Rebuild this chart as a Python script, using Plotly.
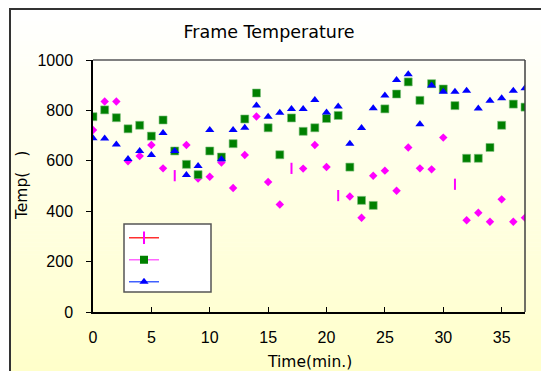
import plotly.graph_objects as go

# ---------------- data ----------------
time_min = list(range(38))

temp_diamond = [722, 835, 835, 598, 619, 663, 570, None, 663, 530, 537, 593, 492, 623,
                776, 516, 427, None, 569, 663, 575, None, 458, 374, 541, 561, 481, 653,
                570, 566, 692, None, 364, 394, 358, 447, 358, 374]

bar_times = [7, 17, 21, 31]
temp_bar = [541, 570, 462, 507]

temp_square = [775, 802, 771, 727, 741, 698, 762, 639, 586, 545, 639, 615, 668, 766,
               869, 731, 624, 770, 717, 731, 768, 780, 575, 443, 423, 806, 865, 913,
               840, 906, 885, 819, 610, 610, 653, 741, 825, 813]

temp_triangle = [689, 688, 665, 607, 639, 623, 710, 639, 544, 579, 722, 606, 722, 731,
                 819, 775, 791, 806, 806, 841, 792, 815, 668, 730, 809, 859, 921, 943,
                 745, 899, 874, 874, 878, 808, 838, 848, 878, 888]

x_ticks = [0, 5, 10, 15, 20, 25, 30, 35]
y_ticks = [0, 200, 400, 600, 800, 1000]

title_text = "Frame Temperature"
x_title = "Time(min.)"
y_title = "Temp(\u00a0\u00a0\u00a0)"

# ---------------- geometry (pixels) ----------------
W, H = 541, 371
L, R, T, B = 93, 525, 60, 312
pw, ph = R - L, B - T


def px_x(p):
    return (p - L) / pw


def px_y(p):
    return (B - p) / ph


FONT = "Arial, Liberation Sans, sans-serif"
WIDE = "DejaVu Sans, Arial, sans-serif"

fig = go.Figure()

# legend-only traces (legend shows odd line/marker combos as in the reference)
fig.add_trace(go.Scatter(x=[None], y=[None], mode="lines+markers", name="\u00a0",
                         line=dict(color="#FF3030", width=1.5),
                         marker=dict(symbol="line-ns", size=9, color="#FF00FF",
                                     line=dict(color="#FF00FF", width=2))))
fig.add_trace(go.Scatter(x=[None], y=[None], mode="lines+markers", name="\u00a0",
                         line=dict(color="#FF66FF", width=1.5),
                         marker=dict(symbol="square", size=8, color="#008000")))
fig.add_trace(go.Scatter(x=[None], y=[None], mode="lines+markers", name="\u00a0",
                         line=dict(color="#4060FF", width=1.5),
                         marker=dict(symbol="triangle-up", size=8, color="#0000FF")))

# data traces
fig.add_trace(go.Scatter(x=time_min, y=temp_diamond, mode="markers", showlegend=False,
                         marker=dict(symbol="diamond", size=6.5, color="#FF00FF")))
fig.add_trace(go.Scatter(x=bar_times, y=temp_bar, mode="markers", showlegend=False,
                         marker=dict(symbol="line-ns", size=8, color="#FF00FF",
                                     line=dict(color="#FF00FF", width=2))))
fig.add_trace(go.Scatter(x=time_min, y=temp_square, mode="markers", showlegend=False,
                         marker=dict(symbol="square", size=8, color="#008000",
                                     line=dict(color="#7FC07F", width=0.6))))
fig.add_trace(go.Scatter(x=time_min, y=temp_triangle, mode="markers", showlegend=False,
                         marker=dict(symbol="triangle-up", size=8, color="#0000FF")))

shapes = []
# gradient chart background
top_px, bot_px = 9, H
n = 90
for i in range(n):
    y0 = top_px + (bot_px - top_px) * i / n
    y1 = top_px + (bot_px - top_px) * (i + 1) / n + 0.5
    f = (i + 0.5) / n
    b = round(255 - (255 - 202) * f)
    shapes.append(dict(type="rect", xref="paper", yref="paper", layer="below",
                       x0=px_x(10), x1=px_x(W + 5), y0=px_y(y1), y1=px_y(y0),
                       line=dict(width=0), fillcolor=f"rgb(255,255,{b})"))
# chart border
shapes.append(dict(type="rect", xref="paper", yref="paper", layer="below",
                   x0=px_x(10), x1=px_x(W + 5), y0=px_y(H + 5), y1=px_y(9),
                   line=dict(color="#333333", width=2), fillcolor="rgba(0,0,0,0)"))
# plot area border (top gray, right dark)
shapes.append(dict(type="line", xref="paper", yref="paper", x0=0, x1=1, y0=1, y1=1,
                   line=dict(color="#808080", width=2)))
shapes.append(dict(type="line", xref="paper", yref="paper", x0=1, x1=1, y0=0, y1=1,
                   line=dict(color="#404040", width=1.5)))
# legend box
shapes.append(dict(type="rect", xref="paper", yref="paper", layer="below",
                   x0=px_x(124), x1=px_x(211), y0=px_y(292), y1=px_y(224),
                   fillcolor="white", line=dict(color="#555555", width=1.5)))

annotations = [
    dict(text=x_title, xref="paper", yref="paper", x=px_x(309), y=px_y(361.5),
         xanchor="center", yanchor="middle", showarrow=False,
         font=dict(size=15.5, family=WIDE, color="black")),
    dict(text=y_title, xref="paper", yref="paper", x=px_x(22), y=px_y(186),
         xanchor="center", yanchor="middle", showarrow=False, textangle=-90,
         font=dict(size=15.5, family=WIDE, color="black")),
]

fig.update_layout(
    width=W, height=H,
    margin=dict(l=L, r=W - R, t=T, b=H - B, autoexpand=False),
    paper_bgcolor="white", plot_bgcolor="rgba(0,0,0,0)",
    font=dict(family=FONT, color="black", size=16),
    title=dict(text=title_text, xref="container", yref="container",
               x=269 / W, y=1 - 32 / H, xanchor="center", yanchor="middle",
               font=dict(size=17.5, family=WIDE)),
    shapes=shapes,
    annotations=annotations,
    showlegend=True,
    legend=dict(x=px_x(124), y=px_y(221.7), xanchor="left", yanchor="top",
                bgcolor="rgba(0,0,0,0)", borderwidth=0,
                font=dict(size=14.6), tracegroupgap=0, itemwidth=30),
    xaxis=dict(range=[0, 37], tickvals=x_ticks, ticks="inside", ticklen=5,
               tickcolor="black", showline=True, linecolor="black", linewidth=1.5,
               showgrid=False, zeroline=False, ticklabelstandoff=10,
               automargin=False, tickfont=dict(size=16)),
    yaxis=dict(range=[0, 1000], tickvals=y_ticks, ticks="outside", ticklen=5,
               tickcolor="black", showline=True, linecolor="black", linewidth=1.5,
               showgrid=False, zeroline=False, ticklabelstandoff=10,
               automargin=False, tickfont=dict(size=16)),
)

fig.write_html("out.html")
